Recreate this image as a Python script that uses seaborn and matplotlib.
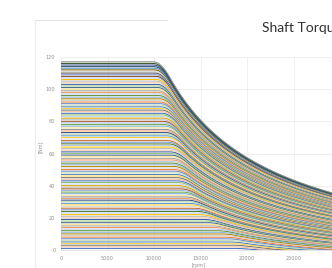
import numpy as np
import pandas as pd
import matplotlib
matplotlib.use("Agg")
import matplotlib.pyplot as plt
import seaborn as sns
from matplotlib.lines import Line2D
from matplotlib.colors import to_rgb

# ---- data ----
# flat (low-speed) shaft torque of each curve [Nm]
flat_torque = [
    1, 2, 3, 4, 5, 6, 7, 8, 9, 10, 11, 12, 13, 14, 15, 16, 17, 18, 19, 20,
    21, 22, 23, 24, 25, 26, 27, 28, 29, 30, 31, 32, 33, 34, 35, 36, 37, 38, 39, 40,
    41, 42, 43, 44, 45, 46, 47, 48, 49, 50, 51, 52, 53, 54, 55, 56, 57, 58, 59, 60,
    61, 62, 63, 64, 65, 66, 67, 68, 69, 70, 71, 72, 73, 74, 75, 76, 77, 78, 79, 80,
    81, 82, 83, 84, 85, 86, 87, 88, 89, 90, 91, 92, 93, 94, 95, 96, 97, 98, 99, 100,
    101, 102, 103, 104, 105, 106, 107, 108, 109, 110, 111, 112, 113, 114, 115, 116, 117,
]
# corner speed (end of the flat part) read at several torque levels
knee_torque = [0, 3, 10, 20, 30, 40, 50, 64, 80, 100, 117]
knee_rpm = [19600, 19200, 18000, 16000, 14500, 13500, 13000, 12500, 11900, 11300, 10800]
loss_torque = 12.5          # offset of the constant-power part
speed_rpm = np.arange(0, 36001, 250)
round_half_width = 3        # samples (x250 rpm) used to round the corners

x_ticks = [0, 5000, 10000, 15000, 20000, 25000, 30000]
y_ticks = [0, 20, 40, 60, 80, 100, 120]
title = "Shaft Torque"
x_label = "[rpm]"
y_label = "[Nm]"

office = ["#4472C4", "#ED7D31", "#A5A5A5", "#FFC000", "#5B9BD5", "#70AD47"]
variants = [1.0, 1.5, 0.7, 1.3, 0.85, 1.6, 1.2]


def shade(c, f):
    r = np.array(to_rgb(c))
    return tuple(r * f) if f <= 1 else tuple(r + (1 - r) * (f - 1))


# ---- long table ----
kernel = np.ones(2 * round_half_width + 1) / (2 * round_half_width + 1)
rows = []
for i, lvl in enumerate(flat_torque):
    knee = np.interp(lvl, knee_torque, knee_rpm)
    power = (lvl + loss_torque) * knee
    tq = np.clip(np.minimum(lvl, power / np.maximum(speed_rpm, 1) - loss_torque), 0, None)
    padded = np.concatenate([np.full(round_half_width, tq[0]), tq,
                             np.full(round_half_width, tq[-1])])
    tq = np.convolve(padded, kernel, mode="valid")
    for s, t in zip(speed_rpm, tq):
        rows.append((i, s, t))
df = pd.DataFrame(rows, columns=["curve", "rpm", "torque"])
palette = [shade(office[i % 6], variants[i % 7]) for i in range(len(flat_torque))]
# the highest curves are drawn in darker tones
for j in range(1, 6):
    palette[-j * 2] = shade(office[(j * 5) % 6], 0.5)

sns.set_theme(style="white")
plt.rcParams["font.family"] = ["DejaVu Sans"]

W, H = 332, 268
fig = plt.figure(figsize=(W / 100, H / 100), dpi=100)
ax = fig.add_axes([61 / W, 18 / H, 325.5 / W, 193 / H])

sns.lineplot(data=df, x="rpm", y="torque", hue="curve", palette=palette,
             legend=False, linewidth=0.75, estimator=None, sort=False, ax=ax)

ax.set_xlim(0, 35000)
ax.set_ylim(0, 120)
ax.set_xticks(x_ticks)
ax.set_yticks(y_ticks)
ax.set_xticklabels([str(v) for v in x_ticks])
ax.set_yticklabels([str(v) for v in y_ticks])
ax.grid(True, color="#ececec", linewidth=0.6)
ax.set_axisbelow(True)
for sp in ["top", "right", "left"]:
    ax.spines[sp].set_visible(False)
ax.spines["bottom"].set_color("#e0e0e0")
ax.spines["bottom"].set_linewidth(0.6)
ax.tick_params(axis="both", length=0, labelsize=3.6, colors="#909090", pad=4)
ax.set_xlabel("")
ax.set_ylabel("")

fig.text(40 / W, 1 - 147 / H, y_label, rotation=90, fontsize=3.6, color="#909090",
         ha="center", va="center")
fig.text(199 / W, 1 - 265 / H, x_label, fontsize=3.6, color="#909090",
         ha="center", va="center")
fig.text(262 / W, 1 - 32 / H, title, fontsize=10, color="#303030",
         family=["Lato", "DejaVu Sans"], ha="left", va="baseline")

fig.add_artist(Line2D([35 / W, 167 / W], [1 - 20 / H, 1 - 20 / H],
                      color="#e4e4e4", linewidth=0.8))
fig.add_artist(Line2D([35 / W, 35 / W], [1 - 20 / H, 0],
                      color="#ececec", linewidth=0.8))

fig.savefig("out.png", dpi=100)
